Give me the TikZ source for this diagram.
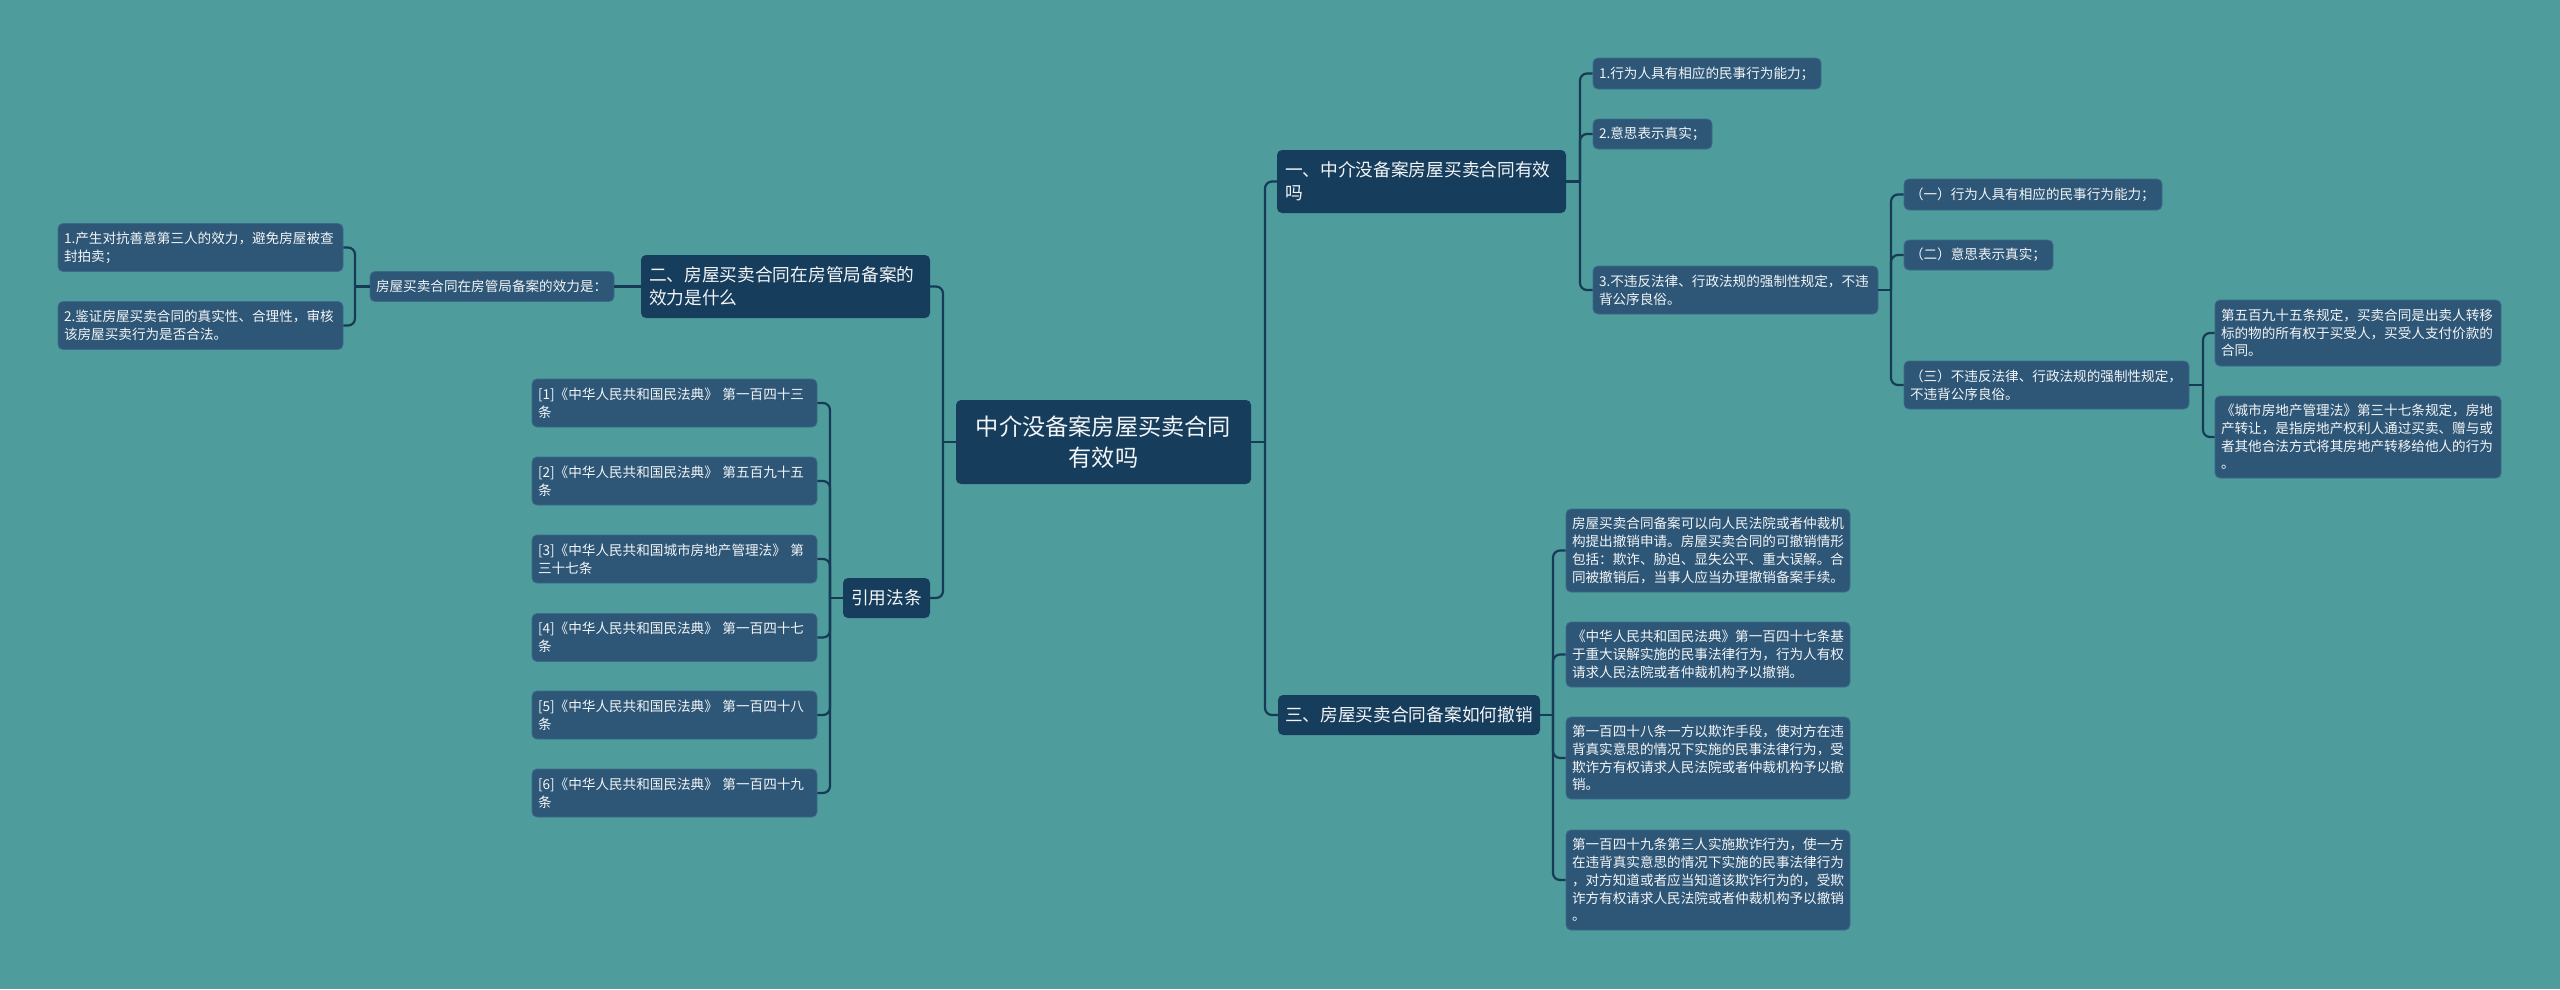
\documentclass[tikz,border=0pt]{standalone}
\usepackage{fontspec}
\setmainfont{Noto Sans CJK SC}
\definecolor{bg}{HTML}{4E9C9C}
\definecolor{dark}{HTML}{173D5C}
\definecolor{leaffill}{HTML}{2E5676}
\definecolor{leafline}{HTML}{3D6A8A}
\definecolor{linec}{HTML}{173A57}
\definecolor{txt}{HTML}{F2F5F7}
\begin{document}
\begin{tikzpicture}[x=1pt,y=-1pt,
  base/.style={rounded corners=5pt, text=txt, inner ysep=0pt, align=left},
  rootbox/.style={base, fill=dark, inner xsep=8pt, align=center, font=\fontsize{23.2pt}{31pt}\selectfont},
  branchbox/.style={base, fill=dark, inner xsep=8pt, font=\fontsize{17.7pt}{23.3pt}\selectfont},
  leafbox/.style={base, fill=leaffill, draw=leafline, line width=0.8pt, inner xsep=6pt, font=\fontsize{13.6pt}{17.7pt}\selectfont},
  conn/.style={draw=linec, line width=2.2pt, rounded corners=7pt}]
\fill[bg] (0,0) rectangle (2560,989);
\useasboundingbox (0,0) rectangle (2560,989);

% root
\node[rootbox, minimum width=295pt, minimum height=84pt, text width=279pt] (root) at (1103.5,442) {中介没备案房屋买卖合同\\有效吗};

% left side
\node[branchbox, minimum height=63pt, text width=273pt] (b2) at (785.5,286.5) {二、房屋买卖合同在房管局备案的\\效力是什么};
\node[leafbox, minimum height=30pt, text width=232pt] (sub) at (492,286.5) {房屋买卖合同在房管局备案的效力是：};
\node[leafbox, minimum height=48pt, text width=273pt] (L1) at (200.5,247.5) {1.产生对抗善意第三人的效力，避免房屋被查\\封拍卖；};
\node[leafbox, minimum height=48pt, text width=273pt] (L2) at (200.5,325.5) {2.鉴证房屋买卖合同的真实性、合理性，审核\\该房屋买卖行为是否合法。};

\node[branchbox, align=center, inner xsep=6pt, minimum height=40pt, text width=75pt] (cite) at (886.5,598) {引用法条};
\node[leafbox, minimum height=48pt, text width=273pt] (c1) at (674.5,403) {[1]《中华人民共和国民法典》 第一百四十三\\条};
\node[leafbox, minimum height=48pt, text width=273pt] (c2) at (674.5,481) {[2]《中华人民共和国民法典》 第五百九十五\\条};
\node[leafbox, minimum height=48pt, text width=273pt] (c3) at (674.5,559) {[3]《中华人民共和国城市房地产管理法》 第\\三十七条};
\node[leafbox, minimum height=48pt, text width=273pt] (c4) at (674.5,637.5) {[4]《中华人民共和国民法典》 第一百四十七\\条};
\node[leafbox, minimum height=48pt, text width=273pt] (c5) at (674.5,715) {[5]《中华人民共和国民法典》 第一百四十八\\条};
\node[leafbox, minimum height=48pt, text width=273pt] (c6) at (674.5,793) {[6]《中华人民共和国民法典》 第一百四十九\\条};

% right side: branch 1
\node[branchbox, minimum height=63pt, text width=273pt] (b1) at (1421.5,181.5) {一、中介没备案房屋买卖合同有效\\吗};
\node[leafbox, minimum height=31pt, text width=216pt] (R1) at (1707,73.5) {1.行为人具有相应的民事行为能力；};
\node[leafbox, minimum height=30pt, text width=107pt] (R2) at (1652.5,134) {2.意思表示真实；};
\node[leafbox, minimum height=48pt, text width=273pt] (R3) at (1735.5,290) {3.不违反法律、行政法规的强制性规定，不违\\背公序良俗。};
\node[leafbox, minimum height=31pt, text width=246pt] (P1) at (2033,194.5) {（一）行为人具有相应的民事行为能力；};
\node[leafbox, minimum height=30pt, text width=137pt] (P2) at (1978.5,255) {（二）意思表示真实；};
\node[leafbox, minimum height=48pt, text width=273pt] (P3) at (2046.5,385) {（三）不违反法律、行政法规的强制性规定，\\不违背公序良俗。};
\node[leafbox, minimum height=66pt, text width=274pt] (S1) at (2358,333) {第五百九十五条规定，买卖合同是出卖人转移\\标的物的所有权于买受人，买受人支付价款的\\合同。};
\node[leafbox, minimum height=82pt, text width=274pt] (S2) at (2358,437) {《城市房地产管理法》第三十七条规定，房地\\产转让，是指房地产权利人通过买卖、赠与或\\者其他合法方式将其房地产转移给他人的行为\\。};

% right side: branch 3
\node[branchbox, minimum height=40pt, inner xsep=7pt, text width=248pt] (b3) at (1409,715) {三、房屋买卖合同备案如何撤销};
\node[leafbox, minimum height=83pt, text width=272pt] (A) at (1708,550.5) {房屋买卖合同备案可以向人民法院或者仲裁机\\构提出撤销申请。房屋买卖合同的可撤销情形\\包括：欺诈、胁迫、显失公平、重大误解。合\\同被撤销后，当事人应当办理撤销备案手续。};
\node[leafbox, minimum height=65pt, text width=272pt] (B) at (1708,654.5) {《中华人民共和国民法典》第一百四十七条基\\于重大误解实施的民事法律行为，行为人有权\\请求人民法院或者仲裁机构予以撤销。};
\node[leafbox, minimum height=82pt, text width=272pt] (C) at (1708,758) {第一百四十八条一方以欺诈手段，使对方在违\\背真实意思的情况下实施的民事法律行为，受\\欺诈方有权请求人民法院或者仲裁机构予以撤\\销。};
\node[leafbox, minimum height=100pt, text width=272pt] (D) at (1708,880) {第一百四十九条第三人实施欺诈行为，使一方\\在违背真实意思的情况下实施的民事法律行为\\，对方知道或者应当知道该欺诈行为的，受欺\\诈方有权请求人民法院或者仲裁机构予以撤销\\。};

% trunks
\coordinate (tL) at (943,0);
\coordinate (tR) at (1265,0);
\coordinate (t1) at (1580,0);
\coordinate (t3) at (1891,0);
\coordinate (t33) at (2203,0);
\coordinate (tB3) at (1553,0);
\coordinate (tS) at (355,0);
\coordinate (tC) at (830,0);

% connectors
\draw[conn] (root.east) -- (root.east -| tR);
\foreach \n in {b1,b3} \draw[conn] (root.east -| tR) |- (\n.west);
\draw[conn] (root.west) -- (root.west -| tL);
\foreach \n in {b2,cite} \draw[conn] (root.west -| tL) |- (\n.east);
\draw[conn] (b2.west) -- (sub.east);
\draw[conn] (sub.west) -- (sub.west -| tS);
\foreach \n in {L1,L2} \draw[conn] (sub.west -| tS) |- (\n.east);
\draw[conn] (cite.west) -- (cite.west -| tC);
\foreach \i in {1,...,6} \draw[conn] (cite.west -| tC) |- (c\i.east);
\draw[conn] (b1.east) -- (b1.east -| t1);
\foreach \n in {R1,R2,R3} \draw[conn] (b1.east -| t1) |- (\n.west);
\draw[conn] (R3.east) -- (R3.east -| t3);
\foreach \n in {P1,P2,P3} \draw[conn] (R3.east -| t3) |- (\n.west);
\draw[conn] (P3.east) -- (P3.east -| t33);
\foreach \n in {S1,S2} \draw[conn] (P3.east -| t33) |- (\n.west);
\draw[conn] (b3.east) -- (b3.east -| tB3);
\foreach \n in {A,B,C,D} \draw[conn] (b3.east -| tB3) |- (\n.west);
\end{tikzpicture}
\end{document}
